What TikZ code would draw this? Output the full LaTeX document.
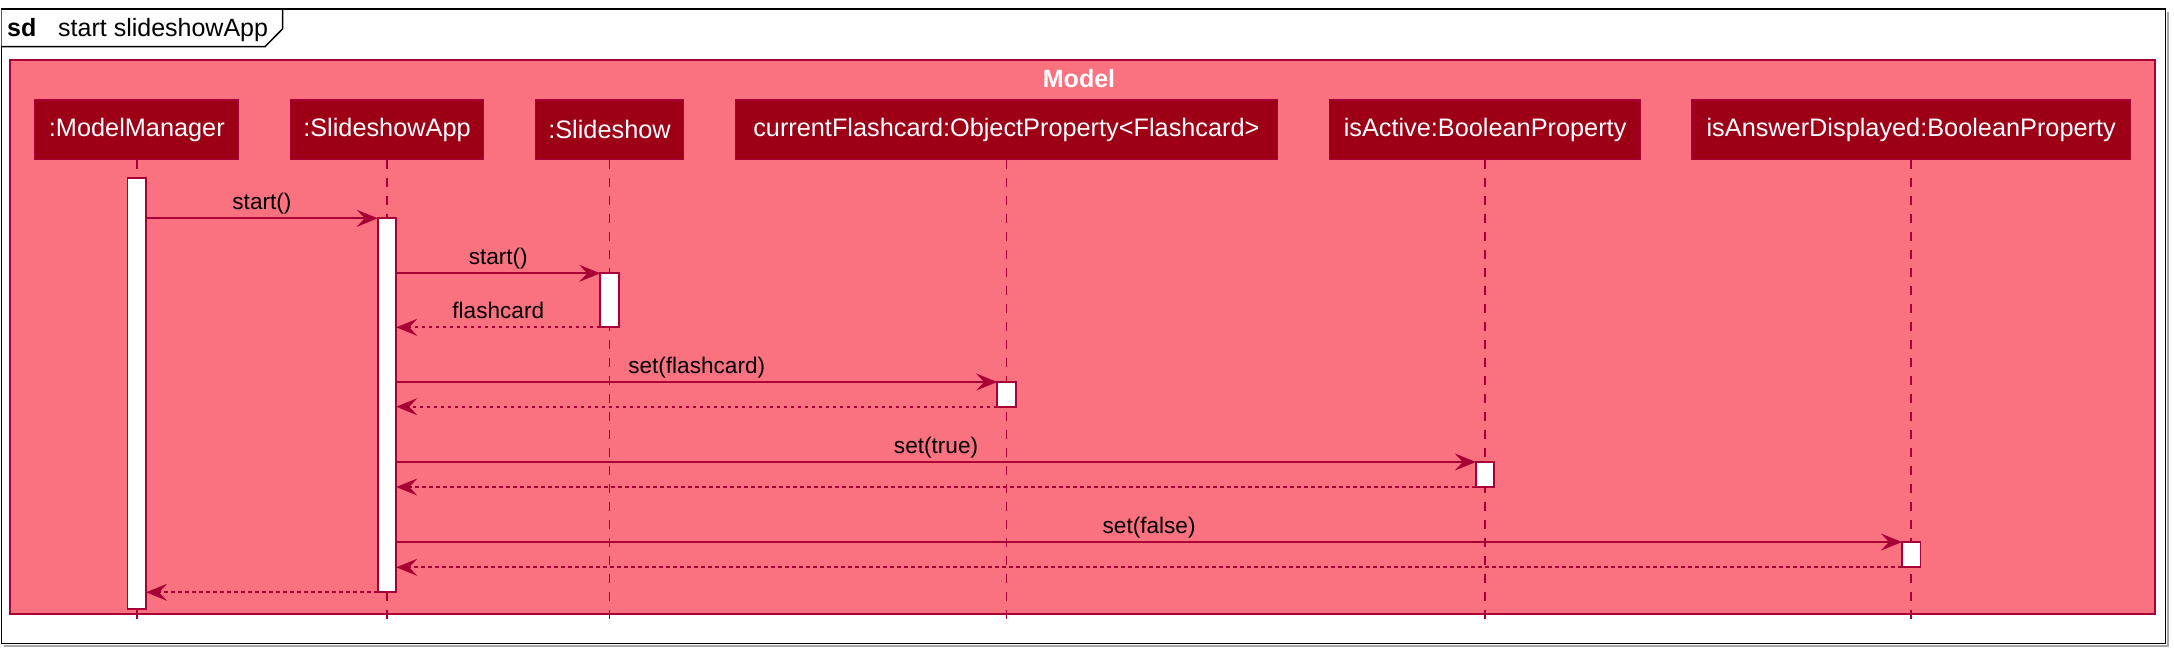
\documentclass[tikz,border=0pt]{standalone}
\usepackage{fontspec}
\setmainfont{Liberation Sans}
\usetikzlibrary{arrows.meta}
\definecolor{lc}{HTML}{A80036}
\definecolor{modelfill}{RGB}{250,114,128}
\definecolor{partfill}{RGB}{157,0,22}
\begin{document}
\begin{tikzpicture}[x=1pt,y=-1pt,
  part/.style={draw=lc, line width=1.2pt, fill=partfill, text=white, minimum height=59.3pt, inner sep=0pt, font=\fontsize{25.3}{30}\selectfont},
  act/.style={draw=lc, line width=1.75pt, fill=white, anchor=north, minimum width=18.5pt, inner sep=0pt, outer sep=0pt},
  life/.style={draw=lc, line width=1.75pt, dash pattern=on 9pt off 9pt},
  msg/.style={draw=lc, line width=1.75pt, -{Stealth[length=21pt,width=17pt,inset=8pt]}},
  ret/.style={msg, dash pattern=on 3.5pt off 3.5pt},
  lbl/.style={font=\fontsize{22.6}{27}\selectfont, anchor=base, inner sep=0pt, yshift=9pt}
]
\useasboundingbox (0,0) rectangle (2174,653);
% outer frame
\draw[gray!70, line width=2pt] (2167.5,12) -- (2167.5,645.5) -- (4,645.5);
\draw[line width=1.5pt, fill=white] (1.5,9) rectangle (2165.5,643.5);
\draw[line width=1.5pt, fill=white] (1.5,9) -- (282.7,9) -- (282.7,28.7) -- (265,46.7) -- (1.5,46.7);
\node[anchor=base west, inner sep=0pt, font=\fontsize{25}{30}\selectfont\bfseries] (sd) at (7,36) {sd};
\node[anchor=base west, inner sep=0pt, font=\fontsize{25}{30}\selectfont] (title) at (58,36) {start slideshowApp};
% model box
\draw[draw=lc, line width=1.75pt, fill=modelfill] (10,60) rectangle (2155,614);
\node[anchor=base, inner sep=0pt, text=white, font=\fontsize{25}{30}\selectfont\bfseries] (model) at (1079,87.3) {Model};
% participants
\node[part, minimum width=203.7pt] (p1) at (136.85,129.65) {:ModelManager};
\node[part, minimum width=193.4pt] (p2) at (387,129.65) {:SlideshowApp};
\node[part, minimum width=148pt] (p3) at (609.5,129.65) {:Slideshow};
\node[part, minimum width=542.4pt] (p4) at (1006.4,129.65) {currentFlashcard:ObjectProperty<Flashcard>};
\node[part, minimum width=311.1pt] (p5) at (1485.1,129.65) {isActive:BooleanProperty};
\node[part, minimum width=438.4pt] (p6) at (1911.2,129.65) {isAnswerDisplayed:BooleanProperty};
% lifelines
\foreach \i in {1,...,6} {
  \coordinate (e\i) at (p\i.south |- 0,619);
  \draw[life] (p\i.south) -- (e\i);
}
% activations
\node[act, minimum height=430.7pt] (a1) at (p1.south |- 0,178) {};
\node[act, minimum height=374pt] (a2) at (p2.south |- 0,218.3) {};
\node[act, minimum height=54pt] (a3) at (p3.south |- 0,273.3) {};
\node[act, minimum height=24.7pt] (a4) at (p4.south |- 0,382) {};
\node[act, minimum height=25pt] (a5) at (p5.south |- 0,462) {};
\node[act, minimum height=25.3pt] (a6) at (p6.south |- 0,542) {};
% messages
\draw[msg] (a1.east |- a2.north) -- node[lbl] {start()} (a2.north west);
\draw[msg] (a2.east |- a3.north) -- node[lbl] {start()} (a3.north west);
\draw[ret] (a3.south west) -- node[lbl] {flashcard} (a2.east |- a3.south);
\draw[msg] (a2.east |- a4.north) -- node[lbl] {set(flashcard)} (a4.north west);
\draw[ret] (a4.south west) -- (a2.east |- a4.south);
\draw[msg] (a2.east |- a5.north) -- node[lbl] {set(true)} (a5.north west);
\draw[ret] (a5.south west) -- (a2.east |- a5.south);
\draw[msg] (a2.east |- a6.north) -- node[lbl] {set(false)} (a6.north west);
\draw[ret] (a6.south west) -- (a2.east |- a6.south);
\draw[ret] (a2.south west) -- (a1.east |- a2.south);
\end{tikzpicture}
\end{document}
